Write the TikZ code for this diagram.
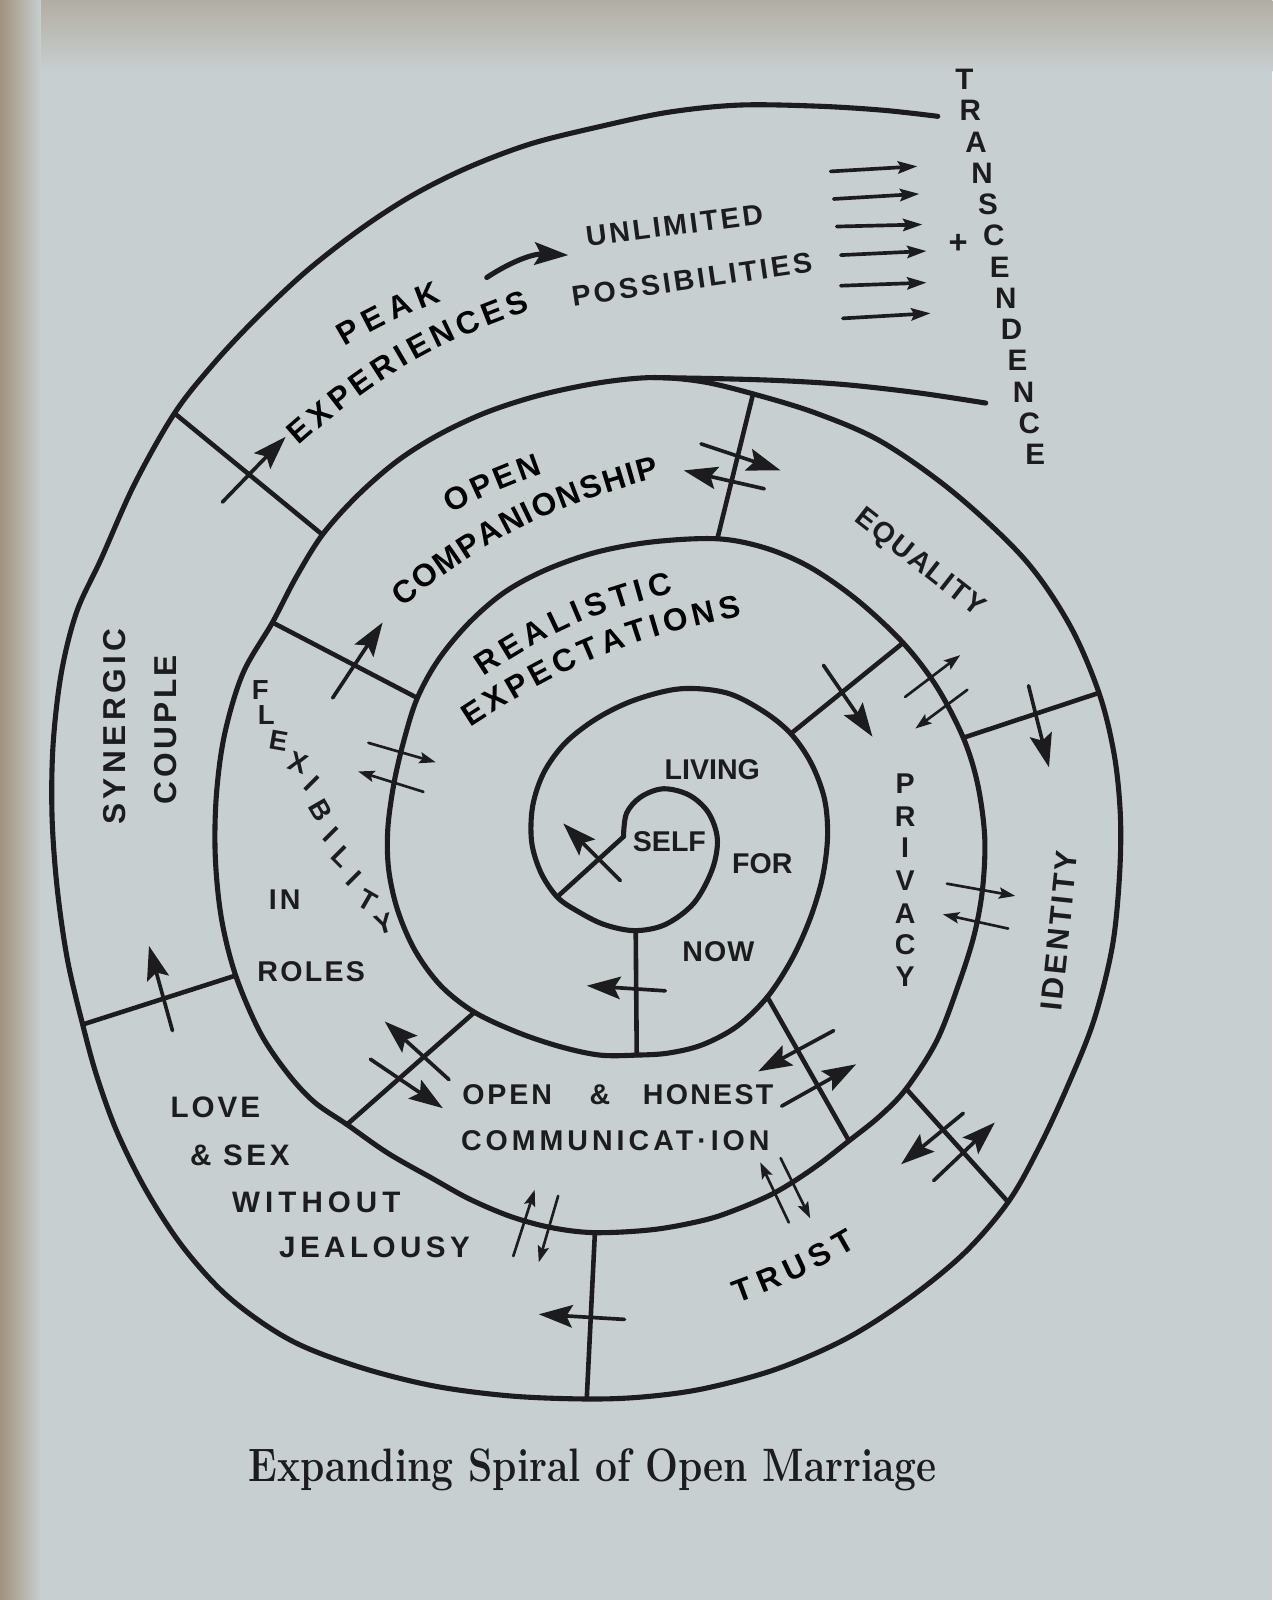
\documentclass[tikz,border=0pt]{standalone}
\usepackage{fontspec}
\usepackage{graphicx}
\newfontfamily\lab{Liberation Sans}
\usetikzlibrary{arrows.meta,decorations.text}
\definecolor{paper}{RGB}{200,207,208}
\definecolor{ink}{RGB}{28,28,30}
\definecolor{edge}{RGB}{160,146,126}
\newcommand\lbl[3]{{\lab\bfseries\fontsize{#1}{#1}\selectfont\addfontfeature{LetterSpace=#2}#3}}
\newcommand\cfont{\lab\bfseries\fontsize{31}{31}\selectfont}
\begin{document}
\begin{tikzpicture}[x=1pt,y=-1pt,
  spiral/.style={draw=ink, line width=5pt, line cap=round, line join=round},
  radial/.style={draw=ink, line width=4.5pt, line cap=round},
  bigarr/.style={draw=ink, line width=3.6pt, line cap=round, -{Stealth[length=33pt,width=22pt,inset=6pt]}},
  smallarr/.style={draw=ink, line width=2.6pt, line cap=round, -{Stealth[length=16pt,width=11pt,inset=3pt]}},
  tarr/.style={draw=ink, line width=3.6pt, line cap=round, -{Stealth[length=19pt,width=12pt,inset=3pt]}},
  lb/.style={text=ink, inner sep=0pt, anchor=center},
  curv/.style={decorate, decoration={text along path, text={|\cfont|#1}, text align=fit to path}}
]
\useasboundingbox (0,0) rectangle (1247,1568);
\fill[paper] (0,0) rectangle (1247,1568);
\shade[top color=edge!55!paper, bottom color=paper] (0,0) rectangle (1247,70);
\shade[left color=edge, right color=paper] (0,0) rectangle (40,1568);

% ---------- spiral ----------
\draw[spiral] plot[smooth, tension=0.55] coordinates {
(611,820) (614,797) (628,781) (650,773) (675,779) (694,796) (703,822) (698,852) (680,885) (652,906) (622,912) (592,906) (566,893) (546,879) (530,855) (521,825) (522,790) (533,757) (554,728) (585,704) (622,686) (667,675) (712,679) (748,697) (775,719) (795,748) (808,783) (811,820) (806,860) (794,900) (776,940) (752,977) (722,1006) (688,1024) (655,1032) (624,1034) (588,1034) (550,1026) (508,1012) (465,992) (432,966) (407,932) (390,893) (381,853) (380,813) (386,768) (396,725) (409,684) (430,646) (460,610) (495,580) (536,558) (585,541) (640,531) (703,528) (750,537) (794,556) (840,588) (885,630) (918,673) (944,723) (958,768) (965,820) (963,870) (955,915) (940,963) (918,1020) (888,1067) (862,1094) (832,1118) (797,1145) (759,1169) (720,1186) (689,1196) (640,1205) (583,1208) (540,1203) (500,1192) (460,1175) (424,1155) (380,1130) (340,1102) (308,1080) (282,1052) (255,1012) (231,956) (217,900) (211,840) (212,780) (220,720) (238,660) (267,610) (290,566) (316,524) (350,486) (389,452) (430,426) (477,404) (530,387) (588,375) (640,370) (688,374) (738,386) (800,405) (864,433) (935,483) (1004,548) (1048,612) (1077,679) (1092,740) (1098,800) (1097,860) (1090,928) (1072,1000) (1046,1065) (1018,1125) (988,1178) (945,1228) (890,1273) (829,1312) (760,1342) (689,1361) (630,1369) (575,1371) (500,1368) (424,1358) (350,1339) (284,1313) (225,1272) (180,1223) (144,1168) (115,1110) (95,1055) (81,1004) (66,940) (56,870) (51,800) (52,730) (60,660) (75,600) (99,548) (132,474) (171,405) (208,358) (249,314) (300,266) (354,224) (405,191) (459,164) (520,141) (588,124) (655,110) (724,103) (800,104) (865,108) (919,114)};
% branch towards transcendence
\draw[spiral] plot[smooth, tension=0.55] coordinates {(640,370) (700,371) (765,373) (829,377) (900,385) (966,395)};

% ---------- radial dividers ----------
\coordinate (r1a) at (546,879);  \coordinate (r1b) at (611,820);
\coordinate (r2a) at (623,912);  \coordinate (r2b) at (624,1034);
\coordinate (r3a) at (775,719);  \coordinate (r3b) at (885,630);
\coordinate (r4a) at (409,684);  \coordinate (r4b) at (267,610);
\coordinate (r5a) at (465,992);  \coordinate (r5b) at (340,1102);
\coordinate (r6a) at (752,977);  \coordinate (r6b) at (832,1118);
\coordinate (r7a) at (703,528);  \coordinate (r7b) at (738,386);
\coordinate (r8a) at (944,723);  \coordinate (r8b) at (1077,679);
\coordinate (r9a) at (888,1067); \coordinate (r9b) at (988,1178);
\coordinate (r10a) at (583,1208); \coordinate (r10b) at (575,1371);
\coordinate (r11a) at (231,956); \coordinate (r11b) at (81,1004);
\coordinate (r12a) at (316,524); \coordinate (r12b) at (171,405);
\foreach \k in {1,...,12} { \draw[radial] (r\k a) -- (r\k b); }

% ---------- big arrows ----------
\foreach \n/\xa/\ya/\xb/\yb in {
  1/608/863/552/807, 2/652/971/575/966, 3/807/652/855/722, 4/326/684/375/610,
  5/218/492/280/428, 7/169/1010/146/927, 8/612/1293/528/1288, 9/1008/672/1028/752,
  10/440/1058/377/1001, 11/363/1038/434/1086, 12/817/1010/743/1050, 13/766/1084/839/1043,
  14/944/1091/883/1141, 15/915/1157/975/1100, 16/687/435/765/461, 17/749/479/670/461} {
  \coordinate (at\n) at (\xa,\ya); \coordinate (ah\n) at (\xb,\yb);
  \draw[bigarr] (at\n) -- (ah\n);
}
\coordinate (at6) at (477,272); \coordinate (ah6) at (557,250);
\draw[bigarr, line width=5pt] (at6) to[bend left=18] (ah6);

% ---------- small double arrows ----------
\foreach \n/\xa/\ya/\xb/\yb in {
  1/361/728/427/747, 2/415/776/351/756, 3/887/683/941/642, 4/948/676/897/714,
  5/928/866/995/878, 6/988/910/924/896, 7/503/1231/524/1166, 8/547/1172/528/1237,
  9/773/1198/745/1139, 10/765/1135/794/1194} {
  \coordinate (st\n) at (\xa,\ya); \coordinate (sh\n) at (\xb,\yb);
  \draw[smallarr] (st\n) -- (sh\n);
}

% ---------- transcendence arrows ----------
\foreach \n/\xa/\ya/\xb/\yb in {1/814/168/899/163, 2/817/195/901/190, 3/820/222/904/220,
  4/824/250/908/246, 5/824/280/908/277, 6/826/312/912/307} {
  \coordinate (tt\n) at (\xa,\ya); \coordinate (th\n) at (\xb,\yb);
  \draw[tarr] (tt\n) -- (th\n);
}

% ---------- straight labels ----------
\node[lb] (living) at (698,754) {\lbl{28}{0}{LIVING}};
\node[lb] (self)   at (656,825) {\lbl{28}{0}{SELF}};
\node[lb] (for)    at (747,846) {\lbl{28}{0}{FOR}};
\node[lb] (now)    at (704,933) {\lbl{28}{4}{NOW}};
\node[lb] (open2)  at (497,1073) {\lbl{28}{10}{OPEN}};
\node[lb] (amp2)   at (588,1073) {\lbl{28}{0}{\&}};
\node[lb] (honest) at (694,1073) {\lbl{28}{8}{HONEST}};
\node[lb] (comm)   at (603,1118) {\lbl{28}{14}{COMMUNICAT·ION}};
\node[lb] (roles)  at (305,952) {\lbl{28}{8}{ROLES}};
\node[lb] (in)     at (279,882) {\lbl{28}{10}{IN}};
\node[lb] (love)   at (211,1085) {\lbl{29}{10}{LOVE}};
\node[lb] (sex)    at (235,1132) {\lbl{29}{12}{\& SEX}};
\node[lb] (without) at (310,1178) {\lbl{29}{17}{WITHOUT}};
\node[lb] (jeal)   at (367,1222) {\lbl{29}{15}{JEALOUSY}};
\node[lb, rotate=90] (syn) at (112,712) {\lbl{31}{14}{SYNERGIC}};
\node[lb, rotate=90] (coup) at (162,715) {\lbl{31}{11}{COUPLE}};
\node[lb, rotate=84] (ident) at (1038,912) {\lbl{30}{10}{IDENTITY}};
\node[lb, rotate=-38] (equal) at (901,552) {\lbl{28}{6}{EQUALITY}};
\node[lb, rotate=7.5] (unlim) at (661,221) {\lbl{28}{10}{UNLIMITED}};
\node[lb, rotate=8.3] (poss) at (678,274) {\lbl{28}{11}{POSSIBILITIES}};
\node[lb] (plus) at (939,239) {\lbl{32}{0}{+}};

\foreach \ch/\yy [count=\i] in {P/768,R/800,I/831,V/863,A/895,C/926,Y/957} {
  \node[lb] (priv\i) at (887,\yy) {\lbl{28}{0}{\ch}};
}
\foreach \ch [count=\i from 0] in {T,R,A,N,S,C,E,N,D,E,N,C,E} {
  \node[lb] (tr\i) at ({945+5.8*\i},{78+30.6*\i}) {\lbl{29}{0}{\ch}};
}
\foreach \ch/\xx/\yy/\rr [count=\i] in {F/255/676/0, L/261/701/0, E/273/726/-10, X/292/747/-20,
  I/306/768/-45, B/314/794/-60, I/324/818/-45, L/335/840/-45, I/347/861/-45, T/360/882/-30, Y/376/905/15} {
  \node[lb, rotate=\rr] (flex\i) at (\xx,\yy) {\lbl{27}{0}{\ch}};
}

% ---------- curved labels ----------
\path[curv=PEAK] (338,340) to[bend left=5] (433,295);
\path[curv=EXPERIENCES] (293,437) to[bend left=11] (520,304);
\path[curv=OPEN] (442,503) to[bend left=4] (532,464);
\path[curv=COMPANIONSHIP] (394,595) to[bend left=12] (647,468);
\path[curv=REALISTIC] (474,663) to[bend left=10] (660,581);
\path[curv=EXPECTATIONS] (461,713) to[bend left=11] (727,604);
\path[curv=TRUST] (723,1277) to[bend right=5] (840,1222);

% ---------- caption ----------
\node[lb] (caption) at (581,1440) {\scalebox{0.83}[1]{\fontsize{46}{46}\selectfont\bfseries Expanding Spiral of Open Marriage}};
\end{tikzpicture}
\end{document}
